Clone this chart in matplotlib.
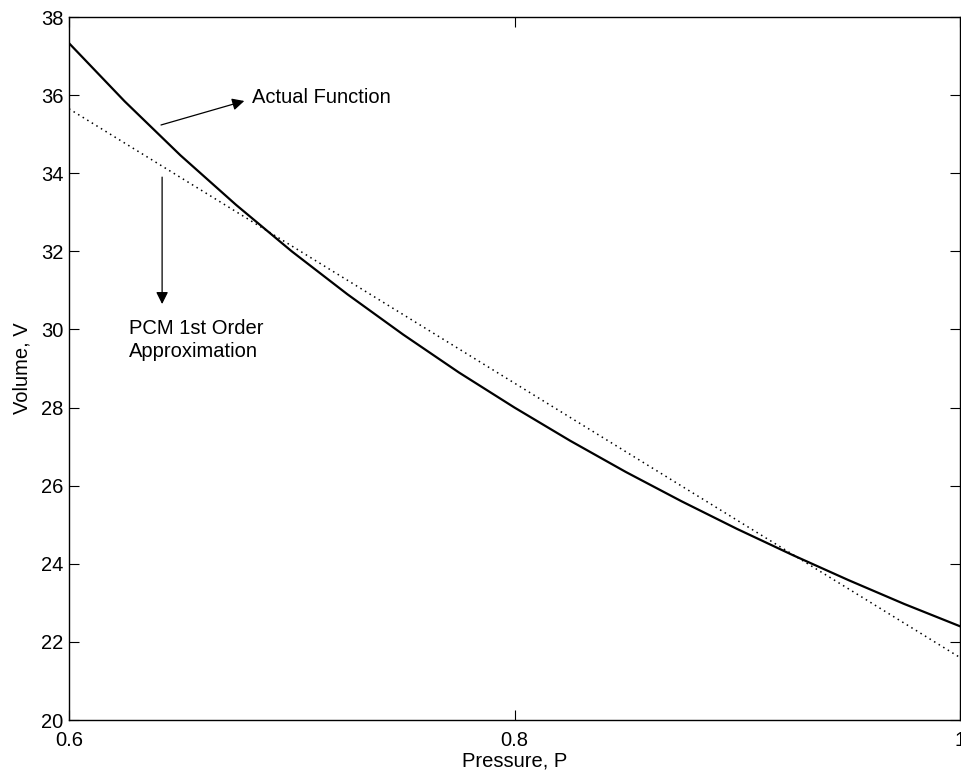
import matplotlib
matplotlib.use("Agg")
import matplotlib.pyplot as plt

plt.rcParams['font.family'] = ['Liberation Sans', 'DejaVu Sans']

pressure = [0.60, 0.625, 0.65, 0.675, 0.70, 0.725, 0.75, 0.775, 0.80, 0.825, 0.85,
            0.875, 0.90, 0.925, 0.95, 0.975, 1.00]
volume_actual = [37.33, 35.84, 34.46, 33.19, 32.00, 30.90, 29.87, 28.90, 28.00, 27.15,
                 26.35, 25.60, 24.89, 24.22, 23.58, 22.97, 22.40]
pressure_lin = [0.60, 1.00]
volume_lin = [35.65, 21.60]

x_ticks = [0.6, 0.8, 1.0]
x_ticklabels = ["0.6", "0.8", "1"]
y_ticks = [20, 22, 24, 26, 28, 30, 32, 34, 36, 38]

FS = 14.5

fig = plt.figure(figsize=(9.62, 7.8), dpi=100)
ax = fig.add_axes([69/962, 1 - 720/780, 891/962, 703/780])

ax.plot(pressure, volume_actual, color='black', linewidth=1.6)
ax.plot(pressure_lin, volume_lin, color='black', linewidth=1.1, linestyle=(0, (1, 2.5)))

ax.set_xlim(0.6, 1.0)
ax.set_ylim(20, 38)
ax.set_xticks(x_ticks)
ax.set_xticklabels(x_ticklabels)
ax.set_yticks(y_ticks)
ax.tick_params(direction='in', top=True, right=True, length=7.5, width=0.8,
               labelsize=FS)
ax.tick_params(axis='x', pad=8)
ax.tick_params(axis='y', pad=4)
for s in ax.spines.values():
    s.set_linewidth(1.0)

ax.set_xlabel("Pressure, P", fontsize=FS, labelpad=1)
ax.set_ylabel("Volume, V", fontsize=FS, labelpad=7)

ax.annotate("", xy=(0.6787, 35.85), xytext=(0.6413, 35.235),
            arrowprops=dict(arrowstyle='-|>', color='black', lw=0.9,
                            mutation_scale=18, shrinkA=0, shrinkB=0))
ax.text(0.6822, 35.94, "Actual Function", fontsize=FS, va='center', ha='left')

ax.annotate("", xy=(0.6418, 30.65), xytext=(0.6418, 33.90),
            arrowprops=dict(arrowstyle='-|>', color='black', lw=0.9,
                            mutation_scale=18, shrinkA=0, shrinkB=0))
ax.text(0.627, 29.73, "PCM 1st Order\nApproximation", fontsize=FS, va='center',
        ha='left', linespacing=1.3)

fig.savefig("out.png", dpi=100)
